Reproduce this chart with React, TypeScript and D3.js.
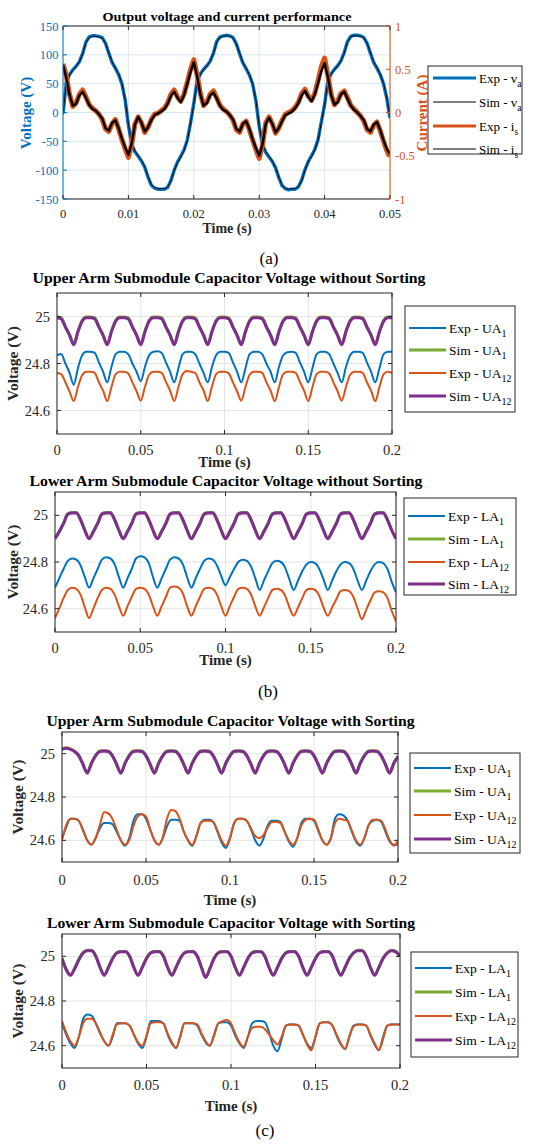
import React from "react";
import * as d3 from "d3";

const FONT = "Liberation Serif, Tinos, DejaVu Serif, serif";
const BLUE = "#0072BD";
const ORANGE = "#D95319";
const GREEN = "#77AC30";
const PURPLE = "#7E2F8E";
const AXIS = "#262626";
const GRID = "#e4e4e4";
const GRID_A = "#d5e5f2";

// ---------------- (a) Output voltage and current ----------------
const timeA = d3.range(101).map((i) => +(i * 0.0005).toFixed(4));
const voltageExp = [
  -2, 52, 66, 74, 80, 88, 102, 122, 131, 133, 133, 132, 130, 120, 103, 87, 77, 66, 50, 22,
  -22, -55, -68, -76, -84, -95, -112, -126, -131, -133, -133, -133, -130, -118, -100, -86, -76, -65, -48, -18,
  16, 54, 67, 75, 81, 89, 103, 123, 131, 133, 134, 133, 130, 119, 102, 86, 76, 65, 49, 20,
  -24, -56, -69, -77, -85, -96, -113, -127, -132, -134, -133, -133, -129, -117, -99, -85, -75, -64, -47, -16,
  14, 55, 67, 75, 81, 90, 104, 123, 132, 134, 134, 133, 130, 120, 103, 87, 77, 66, 50, 25, -10,
];
const voltageSim = [
  -4, 50, 65, 73, 80, 88, 101, 121, 130, 132, 132, 131, 129, 120, 104, 88, 78, 67, 51, 24,
  -20, -54, -67, -75, -83, -94, -111, -125, -130, -132, -132, -132, -129, -119, -101, -87, -77, -66, -49, -20,
  14, 53, 66, 74, 81, 89, 102, 122, 130, 132, 133, 132, 129, 119, 103, 87, 77, 66, 50, 22,
  -22, -55, -68, -76, -84, -95, -112, -126, -131, -133, -132, -132, -128, -118, -100, -86, -76, -65, -48, -18,
  12, 54, 66, 74, 81, 89, 103, 122, 131, 133, 133, 132, 129, 120, 104, 88, 78, 67, 51, 27, -8,
];
const currentExp = [
  0.56, 0.43, 0.21, 0.07, 0.11, 0.21, 0.26, 0.18, 0.09, 0.05, 0.02, -0.02, -0.08, -0.19, -0.22, -0.13, -0.08, -0.19, -0.31, -0.42,
  -0.52, -0.37, -0.13, -0.05, -0.12, -0.23, -0.17, -0.08, -0.02, -0.01, 0.02, 0.05, 0.11, 0.21, 0.26, 0.18, 0.13, 0.21, 0.35, 0.5,
  0.61, 0.44, 0.22, 0.08, 0.12, 0.21, 0.25, 0.17, 0.08, 0.04, 0.01, -0.03, -0.09, -0.2, -0.23, -0.13, -0.1, -0.2, -0.32, -0.43,
  -0.53, -0.38, -0.12, -0.05, -0.13, -0.24, -0.18, -0.09, -0.02, 0.0, 0.02, 0.06, 0.12, 0.22, 0.27, 0.19, 0.14, 0.22, 0.37, 0.53,
  0.63, 0.43, 0.21, 0.09, 0.13, 0.22, 0.25, 0.17, 0.08, 0.04, 0.0, -0.04, -0.1, -0.2, -0.23, -0.15, -0.11, -0.21, -0.33, -0.44, -0.51,
];
const currentSim = [
  0.55, 0.4, 0.2, 0.08, 0.1, 0.2, 0.24, 0.17, 0.09, 0.04, 0.02, -0.02, -0.07, -0.18, -0.21, -0.12, -0.09, -0.18, -0.3, -0.4,
  -0.49, -0.36, -0.14, -0.05, -0.12, -0.22, -0.17, -0.09, -0.03, -0.01, 0.01, 0.04, 0.1, 0.19, 0.24, 0.17, 0.12, 0.2, 0.33, 0.47,
  0.58, 0.42, 0.21, 0.08, 0.11, 0.2, 0.23, 0.16, 0.08, 0.03, 0.01, -0.03, -0.08, -0.19, -0.22, -0.13, -0.1, -0.19, -0.31, -0.41,
  -0.5, -0.37, -0.13, -0.06, -0.13, -0.23, -0.18, -0.1, -0.03, -0.01, 0.01, 0.05, 0.11, 0.2, 0.25, 0.18, 0.13, 0.21, 0.34, 0.48,
  0.57, 0.41, 0.2, 0.09, 0.12, 0.21, 0.24, 0.16, 0.08, 0.03, 0.0, -0.04, -0.09, -0.19, -0.22, -0.14, -0.11, -0.2, -0.32, -0.42, -0.48,
];
const timeTicksA = [0, 0.01, 0.02, 0.03, 0.04, 0.05];
const voltageTicks = [-150, -100, -50, 0, 50, 100, 150];
const currentTicks = [-1, -0.5, 0, 0.5, 1];

// ---------------- (b), (c) capacitor voltages ----------------
const timeB = d3.range(81).map((i) => +(i * 0.0025).toFixed(4));
const timeTicksB = [0, 0.05, 0.1, 0.15, 0.2];
const capTicks = [24.6, 24.8, 25];

// (b) upper arm, without sorting
const upNoSortExp1 = [
  24.835, 24.84, 24.8, 24.76, 24.71, 24.78, 24.835, 24.85,
  24.85, 24.845, 24.805, 24.765, 24.72, 24.785, 24.84, 24.85,
  24.85, 24.84, 24.8, 24.765, 24.725, 24.785, 24.835, 24.85,
  24.852, 24.845, 24.805, 24.765, 24.72, 24.78, 24.84, 24.85,
  24.85, 24.84, 24.8, 24.76, 24.72, 24.785, 24.835, 24.85,
  24.85, 24.845, 24.805, 24.765, 24.72, 24.78, 24.84, 24.85,
  24.85, 24.84, 24.8, 24.765, 24.72, 24.785, 24.835, 24.848,
  24.85, 24.845, 24.805, 24.765, 24.72, 24.78, 24.84, 24.85,
  24.85, 24.84, 24.8, 24.76, 24.72, 24.785, 24.835, 24.85,
  24.85, 24.845, 24.805, 24.765, 24.72, 24.78, 24.84, 24.85,
  24.85,
];
const upNoSortSim1 = [
  24.998, 24.994, 24.958, 24.922, 24.882, 24.937, 24.983, 24.998,
  24.998, 24.994, 24.958, 24.922, 24.882, 24.937, 24.983, 24.998,
  24.998, 24.994, 24.958, 24.922, 24.882, 24.937, 24.983, 24.998,
  24.998, 24.994, 24.958, 24.922, 24.882, 24.937, 24.983, 24.998,
  24.998, 24.994, 24.958, 24.922, 24.882, 24.937, 24.983, 24.998,
  24.998, 24.994, 24.958, 24.922, 24.882, 24.937, 24.983, 24.998,
  24.998, 24.994, 24.958, 24.922, 24.882, 24.937, 24.983, 24.998,
  24.998, 24.994, 24.958, 24.922, 24.882, 24.937, 24.983, 24.998,
  24.998, 24.994, 24.958, 24.922, 24.882, 24.937, 24.983, 24.998,
  24.998, 24.994, 24.958, 24.922, 24.882, 24.937, 24.983, 24.998,
  24.998,
];
const upNoSortExp12 = [
  24.76, 24.755, 24.72, 24.68, 24.64, 24.7, 24.75, 24.765,
  24.765, 24.76, 24.72, 24.685, 24.64, 24.7, 24.755, 24.765,
  24.765, 24.758, 24.72, 24.682, 24.642, 24.7, 24.752, 24.765,
  24.765, 24.76, 24.722, 24.685, 24.64, 24.7, 24.755, 24.768,
  24.765, 24.76, 24.72, 24.685, 24.64, 24.702, 24.755, 24.765,
  24.765, 24.758, 24.72, 24.682, 24.642, 24.7, 24.752, 24.765,
  24.765, 24.76, 24.72, 24.685, 24.64, 24.7, 24.755, 24.765,
  24.765, 24.76, 24.722, 24.685, 24.64, 24.7, 24.755, 24.765,
  24.765, 24.758, 24.72, 24.682, 24.642, 24.7, 24.752, 24.765,
  24.765, 24.76, 24.72, 24.685, 24.64, 24.7, 24.755, 24.765,
  24.76,
];
const upNoSortSim12 = [
  24.995, 24.99, 24.955, 24.92, 24.88, 24.935, 24.98, 24.995,
  24.995, 24.99, 24.955, 24.92, 24.88, 24.935, 24.98, 24.995,
  24.995, 24.99, 24.955, 24.92, 24.88, 24.935, 24.98, 24.995,
  24.995, 24.99, 24.955, 24.92, 24.88, 24.935, 24.98, 24.995,
  24.995, 24.99, 24.955, 24.92, 24.88, 24.935, 24.98, 24.995,
  24.995, 24.99, 24.955, 24.92, 24.88, 24.935, 24.98, 24.995,
  24.995, 24.99, 24.955, 24.92, 24.88, 24.935, 24.98, 24.995,
  24.995, 24.99, 24.955, 24.92, 24.88, 24.935, 24.98, 24.995,
  24.995, 24.99, 24.955, 24.92, 24.88, 24.935, 24.98, 24.995,
  24.995, 24.99, 24.955, 24.92, 24.88, 24.935, 24.98, 24.995,
  24.995,
];

// (b) lower arm, without sorting
const lowNoSortExp1 = [
  24.69, 24.73, 24.77, 24.805, 24.815, 24.81, 24.785, 24.735,
  24.69, 24.73, 24.77, 24.81, 24.82, 24.815, 24.79, 24.735,
  24.69, 24.73, 24.77, 24.815, 24.825, 24.82, 24.795, 24.735,
  24.69, 24.73, 24.77, 24.81, 24.82, 24.815, 24.79, 24.735,
  24.69, 24.73, 24.77, 24.805, 24.815, 24.81, 24.785, 24.74,
  24.7, 24.735, 24.77, 24.8, 24.81, 24.805, 24.78, 24.73,
  24.68, 24.72, 24.76, 24.795, 24.805, 24.8, 24.775, 24.725,
  24.68, 24.72, 24.76, 24.79, 24.8, 24.795, 24.77, 24.725,
  24.68, 24.72, 24.76, 24.79, 24.8, 24.795, 24.77, 24.72,
  24.68, 24.72, 24.76, 24.79, 24.8, 24.795, 24.77, 24.715,
  24.67,
];
const lowNoSortSim1 = [
  24.902, 24.932, 24.967, 25.007, 25.012, 25.012, 24.982, 24.937,
  24.902, 24.932, 24.967, 25.007, 25.012, 25.012, 24.982, 24.937,
  24.902, 24.932, 24.967, 25.007, 25.012, 25.012, 24.982, 24.937,
  24.902, 24.932, 24.967, 25.007, 25.012, 25.012, 24.982, 24.937,
  24.902, 24.932, 24.967, 25.007, 25.012, 25.012, 24.982, 24.937,
  24.902, 24.932, 24.967, 25.007, 25.012, 25.012, 24.982, 24.937,
  24.902, 24.932, 24.967, 25.007, 25.012, 25.012, 24.982, 24.937,
  24.902, 24.932, 24.967, 25.007, 25.012, 25.012, 24.982, 24.937,
  24.902, 24.932, 24.967, 25.007, 25.012, 25.012, 24.982, 24.937,
  24.902, 24.932, 24.967, 25.007, 25.012, 25.012, 24.982, 24.937,
  24.902,
];
const lowNoSortExp12 = [
  24.56, 24.6, 24.645, 24.68, 24.69, 24.685, 24.66, 24.605,
  24.56, 24.6, 24.645, 24.68, 24.69, 24.685, 24.66, 24.61,
  24.57, 24.61, 24.65, 24.685, 24.69, 24.685, 24.66, 24.61,
  24.57, 24.61, 24.65, 24.69, 24.695, 24.69, 24.665, 24.61,
  24.57, 24.61, 24.65, 24.685, 24.69, 24.685, 24.66, 24.61,
  24.57, 24.61, 24.65, 24.685, 24.69, 24.685, 24.66, 24.61,
  24.57, 24.605, 24.645, 24.68, 24.685, 24.68, 24.655, 24.605,
  24.57, 24.605, 24.645, 24.68, 24.685, 24.68, 24.655, 24.605,
  24.57, 24.605, 24.64, 24.675, 24.68, 24.675, 24.65, 24.6,
  24.555, 24.595, 24.635, 24.67, 24.675, 24.67, 24.645, 24.59,
  24.545,
];
const lowNoSortSim12 = [
  24.9, 24.93, 24.965, 25.005, 25.01, 25.01, 24.98, 24.935,
  24.9, 24.93, 24.965, 25.005, 25.01, 25.01, 24.98, 24.935,
  24.9, 24.93, 24.965, 25.005, 25.01, 25.01, 24.98, 24.935,
  24.9, 24.93, 24.965, 25.005, 25.01, 25.01, 24.98, 24.935,
  24.9, 24.93, 24.965, 25.005, 25.01, 25.01, 24.98, 24.935,
  24.9, 24.93, 24.965, 25.005, 25.01, 25.01, 24.98, 24.935,
  24.9, 24.93, 24.965, 25.005, 25.01, 25.01, 24.98, 24.935,
  24.9, 24.93, 24.965, 25.005, 25.01, 25.01, 24.98, 24.935,
  24.9, 24.93, 24.965, 25.005, 25.01, 25.01, 24.98, 24.935,
  24.9, 24.93, 24.965, 25.005, 25.01, 25.01, 24.98, 24.935,
  24.9,
];

// (c) upper arm, with sorting
const upSortExp1 = [
  24.61, 24.66, 24.7, 24.7, 24.69, 24.645, 24.6, 24.58,
  24.61, 24.655, 24.68, 24.68, 24.675, 24.64, 24.6, 24.575,
  24.61, 24.69, 24.72, 24.72, 24.7, 24.65, 24.6, 24.58,
  24.61, 24.665, 24.695, 24.695, 24.69, 24.64, 24.6, 24.575,
  24.62, 24.68, 24.695, 24.695, 24.685, 24.64, 24.59, 24.565,
  24.61, 24.68, 24.7, 24.7, 24.69, 24.65, 24.6, 24.575,
  24.61, 24.67, 24.69, 24.69, 24.685, 24.64, 24.595, 24.57,
  24.61, 24.68, 24.7, 24.7, 24.69, 24.645, 24.6, 24.58,
  24.61, 24.7, 24.72, 24.715, 24.69, 24.64, 24.595, 24.575,
  24.61, 24.67, 24.69, 24.695, 24.685, 24.64, 24.595, 24.58,
  24.58,
];
const upSortSim1 = [
  25.022, 25.027, 25.022, 25.012, 24.992, 24.952, 24.912, 24.957,
  24.992, 25.012, 25.014, 25.012, 24.992, 24.952, 24.912, 24.957,
  24.992, 25.012, 25.014, 25.012, 24.992, 24.952, 24.912, 24.957,
  24.992, 25.012, 25.014, 25.012, 24.992, 24.952, 24.912, 24.957,
  24.992, 25.012, 25.014, 25.012, 24.992, 24.952, 24.912, 24.957,
  24.992, 25.012, 25.014, 25.012, 24.992, 24.952, 24.912, 24.957,
  24.992, 25.012, 25.014, 25.012, 24.992, 24.952, 24.912, 24.957,
  24.992, 25.012, 25.014, 25.012, 24.992, 24.952, 24.912, 24.957,
  24.992, 25.012, 25.014, 25.012, 24.992, 24.952, 24.912, 24.957,
  24.992, 25.012, 25.014, 25.012, 24.992, 24.952, 24.912, 24.957,
  24.987,
];
const upSortExp12 = [
  24.6, 24.67, 24.7, 24.7, 24.69, 24.65, 24.6, 24.58,
  24.61, 24.67, 24.73, 24.725, 24.7, 24.65, 24.6, 24.58,
  24.6, 24.665, 24.71, 24.72, 24.71, 24.65, 24.6, 24.58,
  24.615, 24.7, 24.74, 24.735, 24.7, 24.64, 24.6, 24.58,
  24.62, 24.68, 24.69, 24.69, 24.685, 24.645, 24.6, 24.575,
  24.61, 24.68, 24.7, 24.7, 24.69, 24.655, 24.62, 24.61,
  24.625, 24.66, 24.685, 24.685, 24.68, 24.64, 24.6, 24.58,
  24.61, 24.67, 24.695, 24.7, 24.695, 24.65, 24.6, 24.58,
  24.61, 24.68, 24.7, 24.695, 24.69, 24.645, 24.6, 24.58,
  24.61, 24.67, 24.695, 24.695, 24.69, 24.65, 24.6, 24.575,
  24.6,
];
const upSortSim12 = [
  25.02, 25.025, 25.02, 25.01, 24.99, 24.95, 24.91, 24.955,
  24.99, 25.01, 25.012, 25.01, 24.99, 24.95, 24.91, 24.955,
  24.99, 25.01, 25.012, 25.01, 24.99, 24.95, 24.91, 24.955,
  24.99, 25.01, 25.012, 25.01, 24.99, 24.95, 24.91, 24.955,
  24.99, 25.01, 25.012, 25.01, 24.99, 24.95, 24.91, 24.955,
  24.99, 25.01, 25.012, 25.01, 24.99, 24.95, 24.91, 24.955,
  24.99, 25.01, 25.012, 25.01, 24.99, 24.95, 24.91, 24.955,
  24.99, 25.01, 25.012, 25.01, 24.99, 24.95, 24.91, 24.955,
  24.99, 25.01, 25.012, 25.01, 24.99, 24.95, 24.91, 24.955,
  24.99, 25.01, 25.012, 25.01, 24.99, 24.95, 24.91, 24.955,
  24.985,
];

// (c) lower arm, with sorting
const lowSortExp1 = [
  24.7, 24.65, 24.61, 24.59, 24.64, 24.72, 24.74, 24.735,
  24.7, 24.655, 24.62, 24.6, 24.64, 24.7, 24.7, 24.7,
  24.69, 24.65, 24.61, 24.59, 24.64, 24.71, 24.71, 24.71,
  24.7, 24.65, 24.61, 24.59, 24.64, 24.7, 24.7, 24.7,
  24.69, 24.65, 24.615, 24.6, 24.65, 24.7, 24.705, 24.705,
  24.69, 24.645, 24.61, 24.59, 24.64, 24.7, 24.71, 24.71,
  24.705, 24.66, 24.6, 24.575, 24.63, 24.69, 24.695, 24.695,
  24.69, 24.65, 24.61, 24.59, 24.64, 24.7, 24.705, 24.705,
  24.69, 24.645, 24.605, 24.585, 24.64, 24.69, 24.695, 24.695,
  24.69, 24.645, 24.605, 24.58, 24.64, 24.69, 24.695, 24.695,
  24.695,
];
const lowSortSim1 = [
  24.992, 24.942, 24.917, 24.947, 24.987, 25.017, 25.027, 25.027,
  25.002, 24.952, 24.917, 24.952, 24.992, 25.017, 25.022, 25.022,
  25.002, 24.952, 24.917, 24.952, 24.992, 25.017, 25.022, 25.022,
  25.002, 24.952, 24.917, 24.952, 24.992, 25.017, 25.022, 25.022,
  25.002, 24.952, 24.907, 24.947, 24.992, 25.017, 25.022, 25.022,
  25.002, 24.952, 24.917, 24.952, 24.992, 25.017, 25.022, 25.022,
  25.002, 24.952, 24.917, 24.952, 24.992, 25.017, 25.022, 25.022,
  25.002, 24.952, 24.917, 24.952, 24.992, 25.017, 25.022, 25.022,
  25.002, 24.952, 24.917, 24.952, 24.992, 25.017, 25.027, 25.027,
  25.002, 24.952, 24.917, 24.952, 24.992, 25.017, 25.027, 25.022,
  25.002,
];
const lowSortExp12 = [
  24.71, 24.66, 24.62, 24.6, 24.64, 24.7, 24.72, 24.72,
  24.7, 24.66, 24.62, 24.6, 24.65, 24.695, 24.7, 24.7,
  24.69, 24.65, 24.615, 24.6, 24.645, 24.7, 24.705, 24.705,
  24.7, 24.655, 24.615, 24.59, 24.645, 24.7, 24.7, 24.7,
  24.695, 24.655, 24.62, 24.6, 24.645, 24.7, 24.71, 24.715,
  24.7, 24.655, 24.615, 24.595, 24.64, 24.68, 24.685, 24.685,
  24.675, 24.65, 24.625, 24.605, 24.64, 24.69, 24.695, 24.695,
  24.69, 24.65, 24.605, 24.58, 24.64, 24.7, 24.705, 24.705,
  24.69, 24.65, 24.61, 24.585, 24.64, 24.685, 24.695, 24.695,
  24.69, 24.65, 24.61, 24.58, 24.63, 24.69, 24.695, 24.695,
  24.695,
];
const lowSortSim12 = [
  24.99, 24.94, 24.915, 24.945, 24.985, 25.015, 25.025, 25.025,
  25.0, 24.95, 24.915, 24.95, 24.99, 25.015, 25.02, 25.02,
  25.0, 24.95, 24.915, 24.95, 24.99, 25.015, 25.02, 25.02,
  25.0, 24.95, 24.915, 24.95, 24.99, 25.015, 25.02, 25.02,
  25.0, 24.95, 24.905, 24.945, 24.99, 25.015, 25.02, 25.02,
  25.0, 24.95, 24.915, 24.95, 24.99, 25.015, 25.02, 25.02,
  25.0, 24.95, 24.915, 24.95, 24.99, 25.015, 25.02, 25.02,
  25.0, 24.95, 24.915, 24.95, 24.99, 25.015, 25.02, 25.02,
  25.0, 24.95, 24.915, 24.95, 24.99, 25.015, 25.025, 25.025,
  25.0, 24.95, 24.915, 24.95, 24.99, 25.015, 25.025, 25.02,
  25.0,
];

// ---------------- layout ----------------
type Layout = {
  id: string;
  title: string;
  arm: string;
  x0: number; x1: number; y0: number; y1: number;
  titleX: number; titleY: number; titleW: number;
  ylabX: number; tickLabX: number; tickY: number; timeY: number;
  leg: { x: number; y: number; w: number; h: number; rows: number[] };
  series: number[][];
};

const capPanels: Layout[] = [
  {
    id: "b1", title: "Upper Arm Submodule Capacitor Voltage without Sorting", arm: "UA",
    x0: 57, x1: 392, y0: 293, y1: 434, titleX: 229, titleY: 283, titleW: 393,
    ylabX: 13, tickLabX: 50, tickY: 455, timeY: 467,
    leg: { x: 405, y: 306, w: 110, h: 106, rows: [328, 350, 373, 396] },
    series: [upNoSortExp1, upNoSortSim1, upNoSortExp12, upNoSortSim12],
  },
  {
    id: "b2", title: "Lower Arm Submodule Capacitor Voltage without Sorting", arm: "LA",
    x0: 55, x1: 396, y0: 492, y1: 632, titleX: 226, titleY: 486, titleW: 393,
    ylabX: 13, tickLabX: 48, tickY: 653, timeY: 665,
    leg: { x: 404, y: 498, w: 112, h: 97, rows: [516, 539, 562, 584] },
    series: [lowNoSortExp1, lowNoSortSim1, lowNoSortExp12, lowNoSortSim12],
  },
  {
    id: "c1", title: "Upper Arm Submodule Capacitor Voltage with Sorting", arm: "UA",
    x0: 62, x1: 398, y0: 732, y1: 862, titleX: 230.5, titleY: 726, titleW: 368,
    ylabX: 17.5, tickLabX: 55, tickY: 885, timeY: 905,
    leg: { x: 410, y: 753, w: 110, h: 100, rows: [768, 791, 815, 839] },
    series: [upSortExp1, upSortSim1, upSortExp12, upSortSim12],
  },
  {
    id: "c2", title: "Lower Arm Submodule Capacitor Voltage with Sorting", arm: "LA",
    x0: 62, x1: 400, y0: 934, y1: 1068, titleX: 231, titleY: 928, titleW: 368,
    ylabX: 17.5, tickLabX: 55, tickY: 1090, timeY: 1111,
    leg: { x: 411, y: 952, w: 107, h: 105, rows: [968, 992, 1016, 1040] },
    series: [lowSortExp1, lowSortSim1, lowSortExp12, lowSortSim12],
  },
];

const seriesStyle = [
  { color: BLUE, width: 2, kind: "Exp", sub: "1" },
  { color: GREEN, width: 3, kind: "Sim", sub: "1" },
  { color: ORANGE, width: 2, kind: "Exp", sub: "12" },
  { color: PURPLE, width: 3, kind: "Sim", sub: "12" },
];

const fmt = (v: number) => String(v);

function CapPanel({ p }: { p: Layout }) {
  const x = d3.scaleLinear().domain([0, 0.2]).range([p.x0, p.x1]);
  const y = d3.scaleLinear().domain([24.5, 25.1]).range([p.y1, p.y0]);
  const clipId = `clip-${p.id}`;
  const tl = 4;
  return (
    <g>
      <defs>
        <clipPath id={clipId}>
          <rect x={p.x0} y={p.y0} width={p.x1 - p.x0} height={p.y1 - p.y0} />
        </clipPath>
      </defs>
      <rect x={p.x0} y={p.y0} width={p.x1 - p.x0} height={p.y1 - p.y0} fill="#fff" />
      {timeTicksB.map((t) => (
        <line key={"gx" + t} x1={x(t)} x2={x(t)} y1={p.y0} y2={p.y1} stroke={GRID} strokeWidth={1} />
      ))}
      {capTicks.map((v) => (
        <line key={"gy" + v} x1={p.x0} x2={p.x1} y1={y(v)} y2={y(v)} stroke={GRID} strokeWidth={1} />
      ))}
      <g clipPath={`url(#${clipId})`}>
        {p.series.map((vals, si) => {
          const st = seriesStyle[si];
          const line = d3
            .line<number>()
            .x((_, i) => x(timeB[i]))
            .y((d) => y(d))
            .curve(d3.curveMonotoneX);
          return (
            <path key={si} d={line(vals) || ""} fill="none" stroke={st.color} strokeWidth={st.width} strokeLinejoin="round" />
          );
        })}
      </g>
      <rect x={p.x0} y={p.y0} width={p.x1 - p.x0} height={p.y1 - p.y0} fill="none" stroke={AXIS} strokeWidth={1} />
      {timeTicksB.map((t) => (
        <g key={"tx" + t}>
          <line x1={x(t)} x2={x(t)} y1={p.y1} y2={p.y1 - tl} stroke={AXIS} />
          <line x1={x(t)} x2={x(t)} y1={p.y0} y2={p.y0 + tl} stroke={AXIS} />
          <text x={x(t)} y={p.tickY} textAnchor="middle" fontSize={14.5} fill={AXIS}>
            {fmt(t)}
          </text>
        </g>
      ))}
      {capTicks.map((v) => (
        <g key={"ty" + v}>
          <line x1={p.x0} x2={p.x0 + tl} y1={y(v)} y2={y(v)} stroke={AXIS} />
          <line x1={p.x1} x2={p.x1 - tl} y1={y(v)} y2={y(v)} stroke={AXIS} />
          <text x={p.tickLabX} y={y(v) + 5} textAnchor="end" fontSize={14.5} fill={AXIS}>
            {fmt(v)}
          </text>
        </g>
      ))}
      <text
        x={p.titleX}
        y={p.titleY}
        textAnchor="middle"
        fontSize={14.5}
        fontWeight="bold"
        fill="#000"
        textLength={p.titleW}
        lengthAdjust="spacingAndGlyphs"
      >
        {p.title}
      </text>
      <text
        transform={`translate(${p.ylabX + 5},${(p.y0 + p.y1) / 2}) rotate(-90)`}
        textAnchor="middle"
        fontSize={15.5}
        fontWeight="bold"
        fill={AXIS}
      >
        Voltage (V)
      </text>
      <text x={(p.x0 + p.x1) / 2} y={p.timeY} textAnchor="middle" fontSize={15} fontWeight="bold" fill={AXIS}>
        Time (s)
      </text>
      <rect x={p.leg.x} y={p.leg.y} width={p.leg.w} height={p.leg.h} fill="#fff" stroke={AXIS} strokeWidth={1} />
      {seriesStyle.map((st, i) => (
        <g key={"lg" + i}>
          <line
            x1={p.leg.x + 4}
            x2={p.leg.x + 41}
            y1={p.leg.rows[i]}
            y2={p.leg.rows[i]}
            stroke={st.color}
            strokeWidth={st.width}
          />
          <text x={p.leg.x + 44} y={p.leg.rows[i] + 4.5} fontSize={13.5} fill="#000">
            {`${st.kind} - ${p.arm}`}
            <tspan dy={4} fontSize={10}>
              {st.sub}
            </tspan>
          </text>
        </g>
      ))}
    </g>
  );
}

function PanelA() {
  const x0 = 63, x1 = 390, y0 = 26, y1 = 199;
  const x = d3.scaleLinear().domain([0, 0.05]).range([x0, x1]);
  const yV = d3.scaleLinear().domain([-150, 150]).range([y1, y0]);
  const yI = d3.scaleLinear().domain([-1, 1]).range([y1, y0]);
  const lineV = d3.line<number>().x((_, i) => x(timeA[i])).y((d) => yV(d));
  const lineI = d3.line<number>().x((_, i) => x(timeA[i])).y((d) => yI(d));
  const tl = 4;
  const leg = { x: 428, y: 66, w: 94, h: 88, rows: [78, 102, 126, 149] };
  const legItems = [
    { color: BLUE, width: 3, label: "Exp - v", sub: "a" },
    { color: "#000", width: 1.2, label: "Sim - v", sub: "a" },
    { color: ORANGE, width: 3, label: "Exp - i", sub: "s" },
    { color: "#000", width: 1.2, label: "Sim - i", sub: "s" },
  ];
  return (
    <g>
      <defs>
        <clipPath id="clipA">
          <rect x={x0} y={y0 - 3} width={x1 - x0} height={y1 - y0 + 6} />
        </clipPath>
      </defs>
      {timeTicksA.map((t) => (
        <line key={"gx" + t} x1={x(t)} x2={x(t)} y1={y0} y2={y1} stroke={GRID} />
      ))}
      {voltageTicks.map((v) => (
        <line key={"gy" + v} x1={x0} x2={x1} y1={yV(v)} y2={yV(v)} stroke={GRID_A} />
      ))}
      <g clipPath="url(#clipA)">
        <path d={lineV(voltageExp) || ""} fill="none" stroke={BLUE} strokeWidth={3.4} strokeLinejoin="round" />
        <path d={lineV(voltageSim) || ""} fill="none" stroke="#000" strokeWidth={0.9} strokeLinejoin="round" />
        <path d={lineI(currentExp) || ""} fill="none" stroke={ORANGE} strokeWidth={5} strokeLinejoin="round" />
        <path d={lineI(currentSim) || ""} fill="none" stroke="#000" strokeWidth={2.4} strokeLinejoin="round" />
      </g>
      <line x1={x0} x2={x1} y1={y0} y2={y0} stroke={AXIS} />
      <line x1={x0} x2={x1} y1={y1} y2={y1} stroke={AXIS} />
      <line x1={x0} x2={x0} y1={y0} y2={y1} stroke={BLUE} />
      <line x1={x1} x2={x1} y1={y0} y2={y1} stroke={ORANGE} />
      {timeTicksA.map((t) => (
        <g key={"tx" + t}>
          <line x1={x(t)} x2={x(t)} y1={y1} y2={y1 - tl} stroke={AXIS} />
          <line x1={x(t)} x2={x(t)} y1={y0} y2={y0 + tl} stroke={AXIS} />
          <text x={x(t)} y={218} textAnchor="middle" fontSize={12.5} fill={AXIS}>
            {fmt(t)}
          </text>
        </g>
      ))}
      {voltageTicks.map((v) => (
        <g key={"tv" + v}>
          <line x1={x0} x2={x0 + tl} y1={yV(v)} y2={yV(v)} stroke={BLUE} />
          <text x={58.5} y={yV(v) + 4.5} textAnchor="end" fontSize={12.5} fill={BLUE}>
            {fmt(v)}
          </text>
        </g>
      ))}
      {currentTicks.map((v) => (
        <g key={"ti" + v}>
          <line x1={x1} x2={x1 - tl} y1={yI(v)} y2={yI(v)} stroke={ORANGE} />
          <text x={395} y={yI(v) + 4.5} textAnchor="start" fontSize={12.5} fill={ORANGE}>
            {fmt(v)}
          </text>
        </g>
      ))}
      <text
        x={227}
        y={21}
        textAnchor="middle"
        fontSize={13}
        fontWeight="bold"
        fill="#000"
        textLength={249}
        lengthAdjust="spacingAndGlyphs"
      >
        Output voltage and current performance
      </text>
      <text transform={`translate(31,113) rotate(-90)`} textAnchor="middle" fontSize={15} fontWeight="bold" fill={BLUE}>
        Voltage (V)
      </text>
      <text transform={`translate(427,113) rotate(-90)`} textAnchor="middle" fontSize={15} fontWeight="bold" fill={ORANGE}>
        Current (A)
      </text>
      <text x={227} y={233} textAnchor="middle" fontSize={14} fontWeight="bold" fill={AXIS}>
        Time (s)
      </text>
      <rect x={leg.x} y={leg.y} width={leg.w} height={leg.h} fill="#fff" stroke={AXIS} />
      {legItems.map((it, i) => (
        <g key={"la" + i}>
          <line x1={leg.x + 5} x2={leg.x + 48} y1={leg.rows[i]} y2={leg.rows[i]} stroke={it.color} strokeWidth={it.width} />
          <text x={leg.x + 51} y={leg.rows[i] + 4.5} fontSize={13} fill="#000">
            {it.label}
            <tspan dy={4} fontSize={9.5}>
              {it.sub}
            </tspan>
          </text>
        </g>
      ))}
    </g>
  );
}

export default function App() {
  return (
    <div style={{ position: "absolute", left: 0, top: 0, fontFamily: FONT }}>
      <svg width={553} height={1144} viewBox="0 0 553 1144" fontFamily={FONT} style={{ display: "block" }}>
        <rect x={0} y={0} width={553} height={1144} fill="#fff" />
        <PanelA />
        <text x={269} y={264} textAnchor="middle" fontSize={17} fill="#000">(a)</text>
        {capPanels.map((p) => (
          <CapPanel key={p.id} p={p} />
        ))}
        <text x={268} y={697} textAnchor="middle" fontSize={17} fill="#000">(b)</text>
        <text x={265} y={1136} textAnchor="middle" fontSize={17} fill="#000">(c)</text>
      </svg>
    </div>
  );
}
